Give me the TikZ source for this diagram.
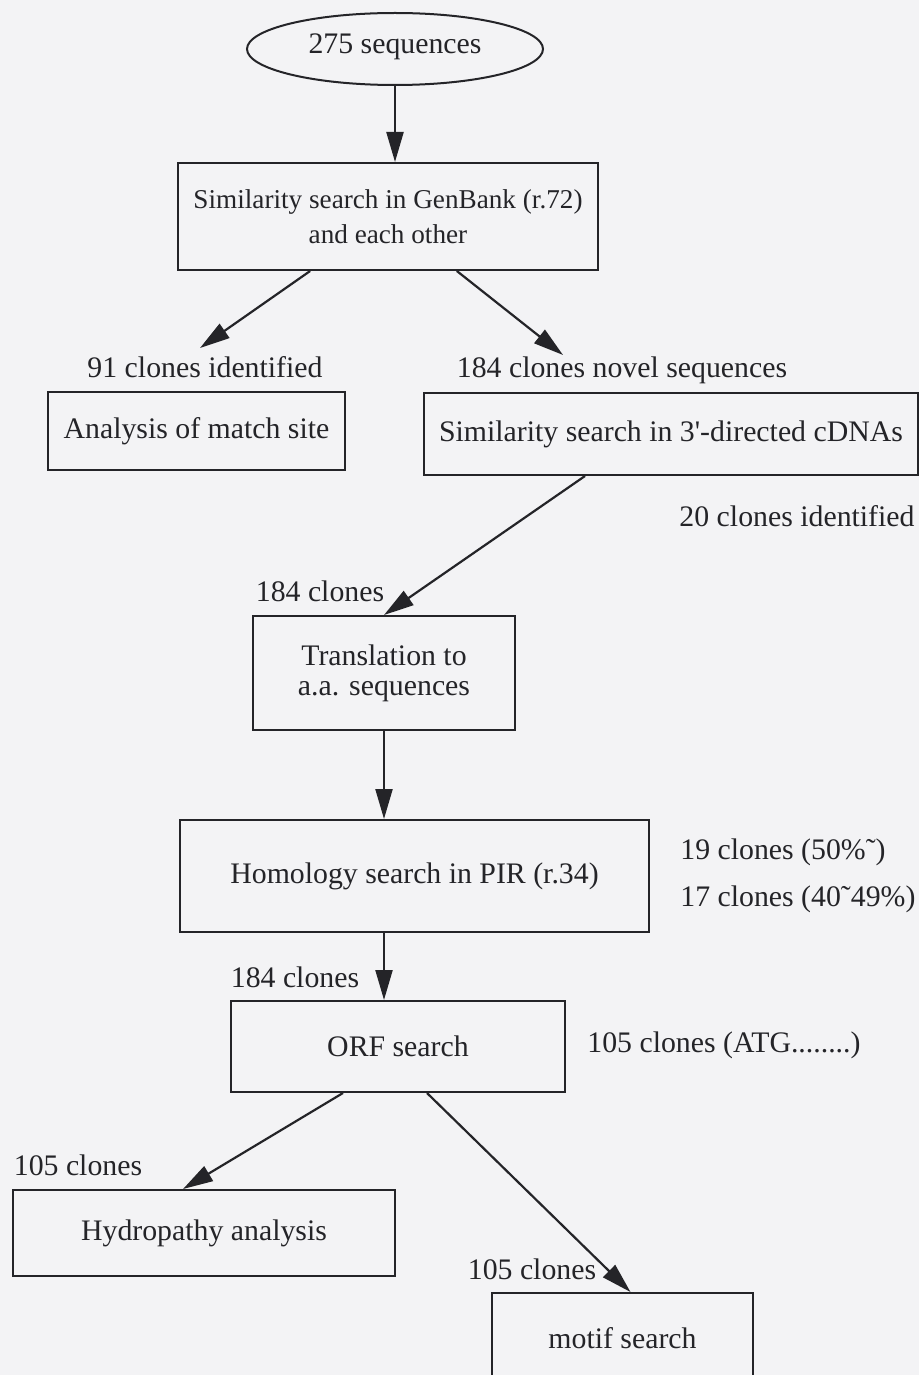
\documentclass[tikz,border=0pt]{standalone}
\usepackage{fontspec}
\setmainfont{Liberation Serif}
\usepackage{tikz}
\usetikzlibrary{arrows.meta,shapes.geometric}
\definecolor{ink}{RGB}{36,36,40}
\definecolor{paper}{RGB}{243,243,245}

\begin{document}
\begin{tikzpicture}[
x=0.5pt, y=-0.5pt,
every node/.style={font=\fontsize{14.9}{16}\selectfont, text=ink, inner sep=0pt},
box/.style={draw=ink, line width=1pt, align=center},
smallbox/.style={box, font=\fontsize{13.6}{17.5}\selectfont},
lbl/.style={text height=0.68em, text depth=0.22em},
arrow/.style={-{Triangle[length=15pt,width=8.5pt]}, line width=1.1pt, ink}
]
\fill[paper] (0,0) rectangle (919,1375);
\clip (0,0) rectangle (919,1375);

\node[box, ellipse, minimum width=148pt, minimum height=36pt, lbl] (seq) at (395,49) {275 sequences};
\node[smallbox, minimum width=210pt, minimum height=53.5pt] (gen) at (388,216.5) {Similarity search in GenBank (r.72)\\and each other};
\node[box, minimum width=148.5pt, minimum height=39pt] (match) at (196.5,431) {Analysis of match site};
\node[box, minimum width=247pt, minimum height=41pt] (cdna) at (671,434) {Similarity search in 3\textquotesingle-directed cDNAs};
\node[box, minimum width=131pt, minimum height=57pt] (transl) at (384,673) {Translation to\\[-1pt]a.a. sequences};
\node[box, minimum width=234.5pt, minimum height=56pt] (pir) at (414.5,876) {Homology search in PIR (r.34)};
\node[box, minimum width=167pt, minimum height=45.5pt] (orf) at (398,1046.5) {ORF search};
\node[box, minimum width=191pt, minimum height=43pt] (hydro) at (204,1233) {Hydropathy analysis};
\node[box, minimum width=130.5pt, minimum height=45pt] (motif) at (622.5,1338) {motif search};

\node[lbl] (n91) at (205,373) {91 clones identified};
\node[lbl] (n184a) at (622,373) {184 clones novel sequences};
\node[lbl] (n20) at (797,522) {20 clones identified};
\node[lbl] (n184b) at (320,597) {184 clones};
\node[lbl, anchor=west] (n19) at (680,855) {19 clones (50\%˜)};
\node[lbl, anchor=west] (n17) at (680,902) {17 clones (40˜49\%)};
\node[lbl] (n184c) at (295,983) {184 clones};
\node[lbl, anchor=west] (natg) at (587,1048) {105 clones (ATG........)};
\node[lbl] (n105a) at (78,1171) {105 clones};
\node[lbl] (n105b) at (532,1275) {105 clones};

\coordinate (t91) at (200,348);
\coordinate (t184) at (563,355);

\draw[arrow] (seq.south) -- (seq.south |- gen.north);
\draw[arrow] (gen) -- (t91);
\draw[arrow] (gen) -- (t184);
\draw[arrow] ([xshift=-43pt]cdna.south) -- (transl.north);
\draw[arrow] (transl.south) -- (transl.south |- pir.north);
\draw[arrow] (pir.south -| transl.south) -- (orf.north -| transl.south);
\draw[arrow] ([xshift=-27.5pt]orf.south) -- ([xshift=-10.5pt]hydro.north);
\draw[arrow] ([xshift=14.5pt]orf.south) -- ([xshift=4pt]motif.north);
\end{tikzpicture}
\end{document}
